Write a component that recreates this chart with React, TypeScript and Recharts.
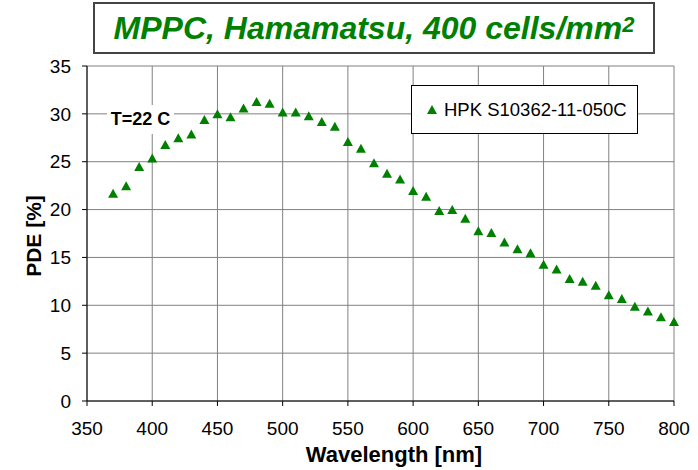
import { ScatterChart, Scatter, XAxis, YAxis, CartesianGrid, Legend, Label } from 'recharts'

// wavelength [nm] and PDE [%]
const wavelengths = [
  370, 380, 390, 400, 410, 420, 430, 440, 450, 460, 470, 480, 490, 500, 510,
  520, 530, 540, 550, 560, 570, 580, 590, 600, 610, 620, 630, 640, 650, 660,
  670, 680, 690, 700, 710, 720, 730, 740, 750, 760, 770, 780, 790, 800,
]
const pde = [
  21.7, 22.5, 24.5, 25.4, 26.8, 27.5, 27.9, 29.4, 30.0, 29.7, 30.6, 31.3, 31.1, 30.2, 30.2,
  29.8, 29.2, 28.7, 27.1, 26.4, 24.9, 23.8, 23.2, 22.0, 21.4, 19.9, 20.0, 19.1, 17.8, 17.6,
  16.6, 15.9, 15.5, 14.3, 13.8, 12.8, 12.5, 12.1, 11.1, 10.7, 9.9, 9.4, 8.8, 8.3,
]
const xTicks = [350, 400, 450, 500, 550, 600, 650, 700, 750, 800]
const yTicks = [0, 5, 10, 15, 20, 25, 30, 35]

const seriesName = 'HPK S10362-11-050C'
const GREEN = '#008000'
const FONT = '"Liberation Sans", Arial, sans-serif'

const data = wavelengths.map((wl, i) => ({ wl, pde: pde[i] }))

function Triangle(props: any) {
  const { cx, cy } = props
  if (cx == null || cy == null) return null
  return <path d={`M${cx},${cy - 4.5}L${cx + 5},${cy + 4.5}L${cx - 5},${cy + 4.5}Z`} fill={GREEN} />
}

function LegendBox() {
  return (
    <div
      style={{
        boxSizing: 'border-box',
        width: 227,
        height: 49,
        border: '1px solid #000',
        background: '#fff',
        display: 'flex',
        alignItems: 'center',
        paddingLeft: 15,
        fontFamily: FONT,
        fontSize: 18.5,
        color: '#000',
      }}
    >
      <svg width={10} height={9} style={{ marginRight: 7 }}>
        <path d="M5,0L10,9L0,9Z" fill={GREEN} />
      </svg>
      <span>{seriesName}</span>
    </div>
  )
}

export default function App() {
  return (
    <div style={{ position: 'absolute', left: 0, top: 0, width: 698, height: 470, background: '#fff' }}>
      <ScatterChart width={698} height={470} margin={{ top: 66, right: 24, left: 0, bottom: 0 }}>
        <CartesianGrid stroke="#808080" />
        <XAxis
          type="number"
          dataKey="wl"
          domain={[350, 800]}
          ticks={xTicks}
          height={69}
          stroke="#000"
          tickSize={5}
          tickMargin={16}
          tick={{ fill: '#000', fontSize: 19, fontFamily: FONT }}
        >
          <Label
            content={() => (
              <text x={394} y={462} textAnchor="middle" fontFamily={FONT} fontSize={22} fontWeight="bold" fill="#000">
                Wavelength [nm]
              </text>
            )}
          />
        </XAxis>
        <YAxis
          type="number"
          dataKey="pde"
          domain={[0, 35]}
          ticks={yTicks}
          width={87}
          stroke="#000"
          tickSize={5}
          tickMargin={11}
          tick={{ fill: '#000', fontSize: 19, fontFamily: FONT }}
        >
          <Label
            content={() => (
              <text
                x={33}
                y={236}
                transform="rotate(-90 33 236)"
                textAnchor="middle"
                dominantBaseline="central"
                fontFamily={FONT}
                fontSize={21}
                fontWeight="bold"
                fill="#000"
              >
                PDE [%]
              </text>
            )}
          />
        </YAxis>
        <Legend
          layout="horizontal"
          align="center"
          verticalAlign="middle"
          wrapperStyle={{ left: 411, top: 85, width: 227, height: 49 }}
          content={() => <LegendBox />}
        />
        <Scatter name={seriesName} data={data} fill={GREEN} shape={<Triangle />} isAnimationActive={false} />
      </ScatterChart>

      <div
        style={{
          position: 'absolute',
          left: 93,
          top: 2,
          width: 562,
          height: 52,
          boxSizing: 'border-box',
          border: '2px solid #444',
          background: '#fff',
          display: 'flex',
          alignItems: 'center',
          justifyContent: 'center',
          fontFamily: FONT,
          fontSize: 32,
          fontWeight: 'bold',
          fontStyle: 'italic',
          color: GREEN,
          whiteSpace: 'nowrap',
        }}
      >
        <span>
          MPPC, Hamamatsu, 400 cells/mm
          <span style={{ fontSize: 22, verticalAlign: 7, lineHeight: 0 }}>2</span>
        </span>
      </div>

      <div
        style={{
          position: 'absolute',
          left: 107,
          top: 105,
          width: 67,
          height: 29,
          background: '#fff',
          display: 'flex',
          alignItems: 'center',
          justifyContent: 'center',
          fontFamily: FONT,
          fontSize: 18,
          fontWeight: 'bold',
          color: '#000',
        }}
      >
        T=22 C
      </div>
    </div>
  )
}
